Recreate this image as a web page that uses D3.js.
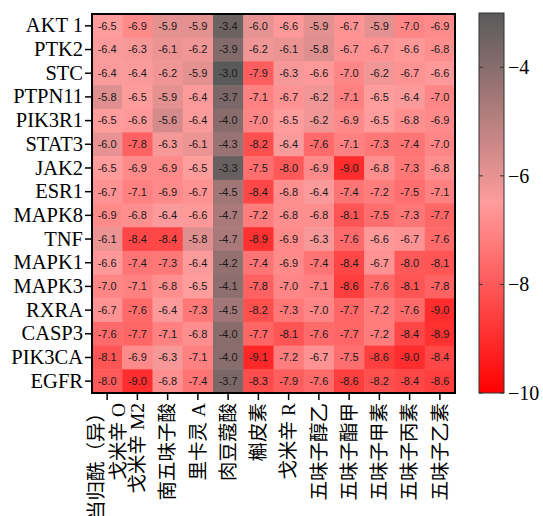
<!DOCTYPE html>
<html>
<head>
<meta charset="utf-8">
<script src="https://cdn.jsdelivr.net/npm/d3@7"></script>
<style>
  body { margin: 0; background: #fff; }
  svg { display: block; }
</style>
</head>
<body>
<svg id="chart" width="543" height="516"></svg>
<script>
// targets (rows) and compounds (columns)
var genes = ["AKT 1", "PTK2", "STC", "PTPN11", "PIK3R1", "STAT3", "JAK2", "ESR1",
             "MAPK8", "TNF", "MAPK1", "MAPK3", "RXRA", "CASP3", "PIK3CA", "EGFR"];

// multi-line labels split by "|"
var compounds = ["当归酰（异）|戈米辛 O", "戈米辛 M2", "南五味子酸", "里卡灵 A", "肉豆蔻酸", "槲皮素",
                 "戈米辛 R", "五味子醇乙", "五味子酯甲", "五味子甲素", "五味子丙素", "五味子乙素"];

// docking scores, one array per gene, in compound order
var values = [
  [-6.5, -6.9, -5.9, -5.9, -3.4, -6.0, -6.6, -5.9, -6.7, -5.9, -7.0, -6.9],
  [-6.4, -6.3, -6.1, -6.2, -3.9, -6.2, -6.1, -5.8, -6.7, -6.7, -6.6, -6.8],
  [-6.4, -6.4, -6.2, -5.9, -3.0, -7.9, -6.3, -6.6, -7.0, -6.2, -6.7, -6.6],
  [-5.8, -6.5, -5.9, -6.4, -3.7, -7.1, -6.7, -6.2, -7.1, -6.5, -6.4, -7.0],
  [-6.5, -6.6, -5.6, -6.4, -4.0, -7.0, -6.5, -6.2, -6.9, -6.5, -6.8, -6.9],
  [-6.0, -7.8, -6.3, -6.1, -4.3, -8.2, -6.4, -7.6, -7.1, -7.3, -7.4, -7.0],
  [-6.5, -6.9, -6.9, -6.5, -3.3, -7.5, -8.0, -6.9, -9.0, -6.8, -7.3, -6.8],
  [-6.7, -7.1, -6.9, -6.7, -4.5, -8.4, -6.8, -6.4, -7.4, -7.2, -7.5, -7.1],
  [-6.9, -6.8, -6.4, -6.6, -4.7, -7.2, -6.8, -6.8, -8.1, -7.5, -7.3, -7.7],
  [-6.1, -8.4, -8.4, -5.8, -4.7, -8.9, -6.9, -6.3, -7.6, -6.6, -6.7, -7.6],
  [-6.6, -7.4, -7.3, -6.4, -4.2, -7.4, -6.9, -7.4, -8.4, -6.7, -8.0, -8.1],
  [-7.0, -7.1, -6.8, -6.5, -4.1, -7.8, -7.0, -7.1, -8.6, -7.6, -8.1, -7.8],
  [-6.7, -7.6, -6.4, -7.3, -4.5, -8.2, -7.3, -7.0, -7.7, -7.2, -7.6, -9.0],
  [-7.6, -7.7, -7.1, -6.8, -4.0, -7.7, -8.1, -7.6, -7.7, -7.2, -8.4, -8.9],
  [-8.1, -6.9, -6.3, -7.1, -4.0, -9.1, -7.2, -6.7, -7.5, -8.6, -9.0, -8.4],
  [-8.0, -9.0, -6.8, -7.4, -3.7, -8.3, -7.9, -7.6, -8.6, -8.2, -8.4, -8.6]
];

var colorDomain = [-10, -6.5, -3];
var colorRange = ["#ff0000", "#ff9c9c", "#5a5a5a"];
var colorTicks = [-4, -6, -8, -10];

var svg = d3.select("#chart");

var plot = {left: 92, right: 455, top: 14, bottom: 393};

var x = d3.scaleBand()
  .domain(d3.range(compounds.length))
  .range([plot.left, plot.right]);

var y = d3.scaleBand()
  .domain(genes)
  .range([plot.top, plot.bottom]);

var color = d3.scaleLinear()
  .domain(colorDomain)
  .range(colorRange)
  .interpolate(d3.interpolateRgb)
  .clamp(true);

// flatten matrix into cells
var cells = [];
values.forEach(function(row, i) {
  row.forEach(function(v, j) {
    cells.push({gene: genes[i], col: j, value: v});
  });
});

var cell = svg.append("g").selectAll("g")
  .data(cells)
  .enter()
  .append("g");

cell.append("rect")
  .attr("x", function(d) { return x(d.col); })
  .attr("y", function(d) { return y(d.gene); })
  .attr("width", x.bandwidth() + 0.5)
  .attr("height", y.bandwidth() + 0.5)
  .attr("fill", function(d) { return color(d.value); });

cell.append("text")
  .attr("x", function(d) { return x(d.col) + x.bandwidth() / 2; })
  .attr("y", function(d) { return y(d.gene) + y.bandwidth() / 2; })
  .attr("dy", "0.35em")
  .attr("text-anchor", "middle")
  .style("font", "11px 'Liberation Sans', Arial, sans-serif")
  .style("fill", "#1a1a1a")
  .text(function(d) { return d.value.toFixed(1); });

// frame
svg.append("rect")
  .attr("x", plot.left)
  .attr("y", plot.top)
  .attr("width", plot.right - plot.left)
  .attr("height", plot.bottom - plot.top)
  .attr("fill", "none")
  .attr("stroke", "#000")
  .attr("stroke-width", 2);

// left axis (genes)
var yAxis = svg.append("g")
  .attr("transform", "translate(" + (plot.left - 1) + ",0)")
  .call(d3.axisLeft(y).tickSize(6).tickPadding(2));
yAxis.select(".domain").remove();
yAxis.selectAll("line").attr("stroke", "#000").attr("stroke-width", 1.5);
yAxis.selectAll("text")
  .style("font", "20.5px 'Liberation Serif', 'Times New Roman', serif")
  .style("fill", "#000");

// bottom axis (compounds)
var xAxis = svg.append("g")
  .attr("transform", "translate(0," + (plot.bottom + 1) + ")")
  .call(d3.axisBottom(x).tickSize(6).tickFormat(""));
xAxis.select(".domain").remove();
xAxis.selectAll("line").attr("stroke", "#000").attr("stroke-width", 1.5);

var colLabel = svg.append("g").selectAll("text")
  .data(compounds)
  .enter()
  .append("text")
  .attr("transform", function(d, i) {
    return "translate(" + (x(i) + x.bandwidth() / 2) + "," + (plot.bottom + 10) + ") rotate(-90)";
  })
  .attr("text-anchor", "end")
  .style("font", "19.5px 'Liberation Serif', 'Noto Sans CJK SC', serif")
  .style("fill", "#000");

colLabel.each(function(d) {
  var lines = d.split("|");
  var t = d3.select(this);
  lines.forEach(function(line, k) {
    var off = (k - (lines.length - 1) / 2) * 1.15;
    t.append("tspan")
      .attr("x", 0)
      .attr("y", 0)
      .attr("dy", (off + 0.35) + "em")
      .text(line);
  });
});

// colour bar
var bar = {left: 479, width: 25, top: 13, bottom: 393};
var cy = d3.scaleLinear().domain([-10, -3]).range([bar.bottom, bar.top]);

var defs = svg.append("defs");
var grad = defs.append("linearGradient")
  .attr("id", "cbar")
  .attr("x1", 0).attr("y1", 1)
  .attr("x2", 0).attr("y2", 0);
d3.range(0, 1.0001, 0.05).forEach(function(t) {
  var v = -10 + t * 7;
  grad.append("stop")
    .attr("offset", t)
    .attr("stop-color", color(v));
});

svg.append("rect")
  .attr("x", bar.left)
  .attr("y", bar.top)
  .attr("width", bar.width)
  .attr("height", bar.bottom - bar.top)
  .attr("fill", "url(#cbar)")
  .attr("stroke", "#333")
  .attr("stroke-width", 1);

var cTick = svg.append("g").selectAll("g")
  .data(colorTicks)
  .enter()
  .append("g");

cTick.append("line")
  .attr("x1", bar.left).attr("x2", bar.left + 4)
  .attr("y1", function(d) { return cy(d); })
  .attr("y2", function(d) { return cy(d); })
  .attr("stroke", "#333");

cTick.append("line")
  .attr("x1", bar.left + bar.width - 4).attr("x2", bar.left + bar.width)
  .attr("y1", function(d) { return cy(d); })
  .attr("y2", function(d) { return cy(d); })
  .attr("stroke", "#333");

cTick.append("text")
  .attr("x", bar.left + bar.width + 4)
  .attr("y", function(d) { return cy(d); })
  .attr("dy", "0.35em")
  .style("font", "20px 'Liberation Serif', 'Times New Roman', serif")
  .style("fill", "#000")
  .text(function(d) { return "\u2212" + Math.abs(d); });
</script>
</body>
</html>
